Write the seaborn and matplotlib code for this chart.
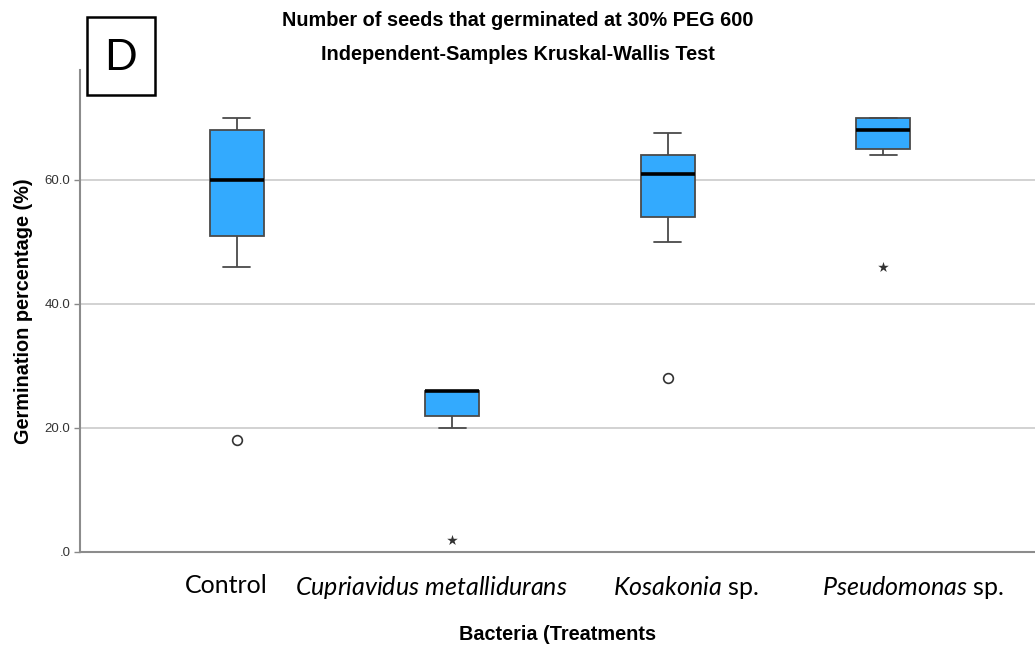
import numpy as np
import pandas as pd
import matplotlib
matplotlib.use("Agg")
import matplotlib.pyplot as plt
import seaborn as sns
from matplotlib.patches import Rectangle
from matplotlib.transforms import ScaledTranslation

# ---- data ----
categories = ["Control", "Cupriavidus metallidurans", "Kosakonia sp.", "Pseudomonas sp."]
control = [18, 46, 51, 55, 60, 64, 68, 69, 70]
cupriavidus = [2, 20, 22, 24, 26, 26, 26, 26, 26]
kosakonia = [28, 50, 54, 58, 61, 62, 64, 66, 67.5]
pseudomonas = [46, 64, 65, 66, 68, 69, 70, 70, 70]
xtick_labels = [r"Control",
                r"$\mathit{Cupriavidus}\ \mathit{metallidurans}$",
                r"$\mathit{Kosakonia}$ sp.",
                r"$\mathit{Pseudomonas}$ sp."]
yticks = [0, 20, 40, 60]
ytick_labels = [".0", "20.0", "40.0", "60.0"]

title1 = "Number of seeds that germinated at 30% PEG 600"
title2 = "Independent-Samples Kruskal-Wallis Test"
xlabel = "Bacteria (Treatments"
ylabel = "Germination percentage (%)"
panel = "D"

groups = [control, cupriavidus, kosakonia, pseudomonas]
df = pd.DataFrame({
    "group": np.repeat(categories, [len(g) for g in groups]),
    "value": np.concatenate(groups),
})

# classify outliers (mild -> circle, extreme -> star), SPSS style
mild_rows, ext_rows = [], []
for cat, g in zip(categories, groups):
    a = np.asarray(g, float)
    q1, q3 = np.percentile(a, [25, 75])
    iqr = q3 - q1
    for v in a:
        if v < q1 - 3 * iqr or v > q3 + 3 * iqr:
            ext_rows.append((cat, v))
        elif v < q1 - 1.5 * iqr or v > q3 + 1.5 * iqr:
            mild_rows.append((cat, v))
mild = pd.DataFrame(mild_rows, columns=["group", "value"])
ext = pd.DataFrame(ext_rows, columns=["group", "value"])

sns.set_theme(style="white")
plt.rcParams["font.family"] = ["Liberation Sans", "DejaVu Sans"]
plt.rcParams["mathtext.fontset"] = "custom"
plt.rcParams["mathtext.rm"] = "Lato"
plt.rcParams["mathtext.it"] = "Lato:italic"

fig = plt.figure(figsize=(10.35, 6.46), dpi=100)
ax = fig.add_axes([80 / 1035, 1 - 552 / 646, 1 - 80 / 1035, (552 - 70) / 646])

box_color = "#33AAFE"
line_color = "#4a4a4a"
sns.boxplot(data=df, x="group", y="value", order=categories, color=box_color,
            saturation=1, width=0.25, showfliers=False, linecolor=line_color,
            linewidth=1.3,
            medianprops=dict(color="black", linewidth=2.6),
            ax=ax)
sns.stripplot(data=mild, x="group", y="value", order=categories, jitter=False,
              marker="o", color="white", edgecolor="#333333", linewidth=1.2,
              size=7, ax=ax, zorder=5)
sns.stripplot(data=ext, x="group", y="value", order=categories, jitter=False,
              marker="*", color="#333333", size=8, ax=ax, zorder=5)

ax.set_ylim(0, 77.7)
ax.set_xlim(-0.728, 3.705)
ax.set_yticks(yticks)
ax.set_yticklabels(ytick_labels, fontsize=9.5, color="#333333")
ax.set_xticks(range(len(categories)))
ax.set_xticklabels(xtick_labels, fontsize=18, family="Lato", color="black")
ax.tick_params(axis="x", length=0, pad=16)
ax.tick_params(axis="y", length=4, width=1, color="#888888", direction="out", pad=3, left=True)
# labels in the reference sit slightly off the box centres
label_shift_px = [-11, -21, 18, 30]
for lab, dx in zip(ax.get_xticklabels(), label_shift_px):
    lab.set_transform(lab.get_transform() + ScaledTranslation(dx / 100, 0, fig.dpi_scale_trans))

ax.yaxis.grid(True, color="#cfcfcf", linewidth=1.3)
ax.set_axisbelow(True)
for s in ["top", "right"]:
    ax.spines[s].set_visible(False)
for s in ["left", "bottom"]:
    ax.spines[s].set_color("#8c8c8c")
    ax.spines[s].set_linewidth(1.5)

ax.set_xlabel(xlabel, fontsize=14.3, fontweight="bold", labelpad=17, color="black")
ax.set_ylabel(ylabel, fontsize=14.3, fontweight="bold", labelpad=8, color="black")

fig.text(0.5, 1 - 20 / 646, title1, ha="center", va="center", fontsize=14.3,
         fontweight="bold", color="black")
fig.text(0.5, 1 - 54 / 646, title2, ha="center", va="center", fontsize=14.3,
         fontweight="bold", color="black")

fig.patches.append(Rectangle((87 / 1035, 1 - 95 / 646), 68 / 1035, 78 / 646,
                             transform=fig.transFigure, fill=False,
                             edgecolor="black", linewidth=1.8))
fig.text(121 / 1035, 1 - 58 / 646, panel, ha="center", va="center", fontsize=31,
         family="Lato", color="black")

fig.savefig("out.png", dpi=100)
